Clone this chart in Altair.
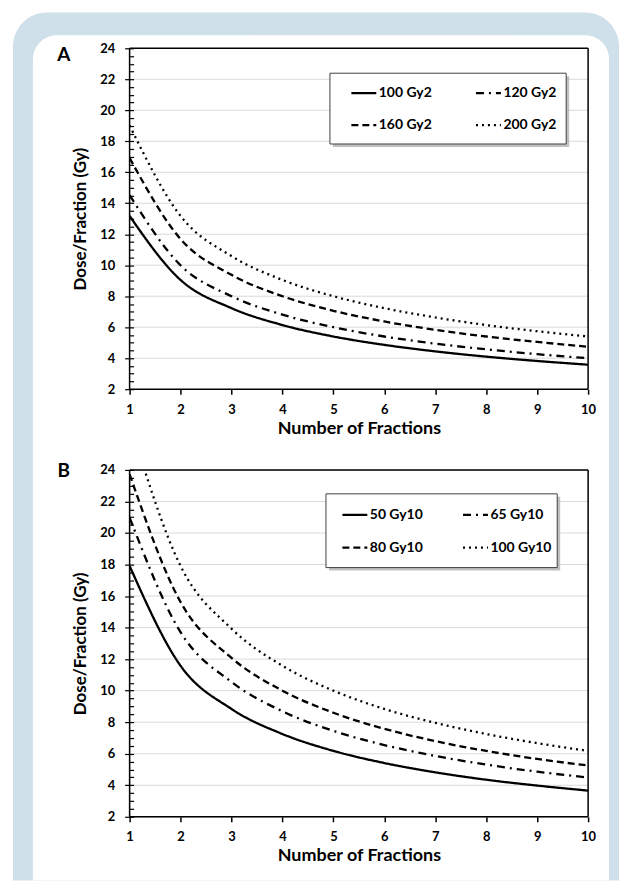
import altair as alt
import pandas as pd

FONT = "Lato"

# ---------------- data ----------------
fractions = [1, 2, 3, 4, 5, 6, 7, 8, 9, 10]

a_labels = ["100 Gy2", "120 Gy2", "160 Gy2", "200 Gy2"]
a_100 = [13.18, 9.05, 7.23, 6.14, 5.40, 4.86, 4.44, 4.10, 3.82, 3.58]
a_120 = [14.52, 10.00, 8.00, 6.81, 6.00, 5.40, 4.94, 4.57, 4.26, 4.00]
a_160 = [16.92, 11.69, 9.38, 8.00, 7.06, 6.37, 5.83, 5.40, 5.05, 4.74]
a_200 = [19.02, 13.18, 10.59, 9.05, 8.00, 7.23, 6.63, 6.14, 5.74, 5.40]

b_labels = ["50 Gy10", "65 Gy10", "80 Gy10", "100 Gy10"]
b_50 = [17.91, 11.58, 8.84, 7.25, 6.18, 5.41, 4.82, 4.35, 3.98, 3.66]
b_65 = [20.98, 13.71, 10.55, 8.69, 7.45, 6.55, 5.86, 5.31, 4.86, 4.49]
b_80 = [23.72, 15.62, 12.08, 10.00, 8.60, 7.58, 6.80, 6.18, 5.67, 5.25]
b_100 = [27.02, 17.91, 13.93, 11.58, 10.00, 8.84, 7.96, 7.25, 6.67, 6.18]

y_tick_values = [v / 2 for v in range(4, 49)]  # 2, 2.5, ... 24 (major every 2)
x_tick_values = fractions
grid_values = [4, 6, 8, 10, 12, 14, 16, 18, 20, 22]
y_domain = [2, 24]
x_domain = [1, 10]

# solid, dash-dot, dash, dot
dash_styles = [[1, 0], [8, 5, 2, 5], [7, 4], [2, 4]]

BLUE = "#cfe0ea"
OX = 129  # page x of plot origin (both panels)
FRAME_BOTTOM = 881

one = pd.DataFrame({"k": [0]})


def long_table(labels, series):
    rows = []
    for lab, vals in zip(labels, series):
        for n, v in zip(fractions, vals):
            rows.append({"n": n, "dose": v, "series": lab})
    return pd.DataFrame(rows)


def make_axes():
    xaxis = alt.Axis(
        values=x_tick_values, domain=False, grid=False, tickSize=5,
        tickColor="black", tickWidth=1.5, labelFont=FONT, labelFontSize=13,
        labelFontWeight="bold", labelColor="black", labelPadding=9,
        labelFlush=False, title="Number of Fractions", titleFont=FONT,
        titleFontSize=18, titleFontWeight="bold", titleColor="black",
        titlePadding=3, zindex=1)
    yaxis = alt.Axis(
        values=y_tick_values, domain=False, grid=False, offset=-4,
        tickSize={"condition": {"test": "datum.value % 2 === 0", "value": 9}, "value": 4},
        tickColor="black", tickWidth=1.2,
        labelExpr="datum.value % 2 === 0 ? format(datum.value, 'd') : ''",
        labelOverlap=False, labelFont=FONT, labelFontSize=13,
        labelFontWeight="bold", labelColor="black", labelPadding=10,
        labelFlush=False, title="Dose/Fraction (Gy)", titleFont=FONT,
        titleFontSize=17, titleFontWeight="bold", titleColor="black",
        titlePadding=10, zindex=1)
    return xaxis, yaxis


def panel(labels, series, letter, oy, h, box, lx, ly, rowpad, colpad, frame):
    xs = alt.Scale(domain=x_domain, nice=False, zero=False)
    ys = alt.Scale(domain=y_domain, nice=False, zero=False)
    xaxis, yaxis = make_axes()

    layers = []
    if frame:
        layers.append(alt.Chart(one).mark_rect(
            color=BLUE, strokeWidth=0, cornerRadiusTopLeft=34,
            cornerRadiusTopRight=34).encode(
            x=alt.value(12 - OX), x2=alt.value(620 - OX),
            y=alt.value(10 - oy), y2=alt.value(FRAME_BOTTOM - oy)))
        layers.append(alt.Chart(one).mark_rect(
            color="white", strokeWidth=0, cornerRadiusTopLeft=24,
            cornerRadiusTopRight=24).encode(
            x=alt.value(32 - OX), x2=alt.value(610 - OX),
            y=alt.value(33 - oy), y2=alt.value(FRAME_BOTTOM - oy)))

    layers.append(alt.Chart(pd.DataFrame({"dose": grid_values})).mark_rule(
        color="#d9d9d9", strokeWidth=1).encode(
        y=alt.Y("dose:Q", scale=ys, axis=yaxis)))

    # legend box with drop shadow (decoration)
    bx1, by1, bx2, by2 = box
    layers.append(alt.Chart(one).mark_rect(color="#b0b0b0", opacity=0.8).encode(
        x=alt.value(bx1 - OX + 3), x2=alt.value(bx2 - OX + 3),
        y=alt.value(by1 - oy + 3), y2=alt.value(by2 - oy + 3)))
    layers.append(alt.Chart(one).mark_rect(
        fill="white", stroke="#404040", strokeWidth=1).encode(
        x=alt.value(bx1 - OX), x2=alt.value(bx2 - OX),
        y=alt.value(by1 - oy), y2=alt.value(by2 - oy)))

    # legend order so that the 2-column grid reads row by row
    leg_order = [labels[0], labels[2], labels[1], labels[3]]
    leg_dash = [dash_styles[0], dash_styles[2], dash_styles[1], dash_styles[3]]

    df = long_table(labels, series)
    layers.append(alt.Chart(df).mark_line(
        clip=True, color="black", strokeWidth=2.3, interpolate="monotone"
    ).encode(
        x=alt.X("n:Q", scale=xs, axis=xaxis),
        y=alt.Y("dose:Q", scale=ys, axis=yaxis),
        strokeDash=alt.StrokeDash("series:N", scale=alt.Scale(
            domain=leg_order, range=leg_dash), legend=alt.Legend(
            orient="none", legendX=lx - OX, legendY=ly - oy, columns=2,
            title=None, padding=0, rowPadding=rowpad, columnPadding=colpad,
            symbolType="stroke", symbolStrokeWidth=2.3, symbolSize=625,
            symbolStrokeColor="black", labelFont=FONT, labelFontSize=14,
            labelFontWeight="bold", labelColor="black", labelOffset=1)),
    ))

    layers.append(alt.Chart(pd.DataFrame({"dose": y_domain})).mark_rule(
        color="black", strokeWidth=1.5).encode(
        y=alt.Y("dose:Q", scale=ys, axis=yaxis)))
    layers.append(alt.Chart(pd.DataFrame({"n": x_domain})).mark_rule(
        color="black", strokeWidth=1.5).encode(
        x=alt.X("n:Q", scale=xs, axis=xaxis)))

    ly_letter = 53 if frame else 470
    layers.append(alt.Chart(one).mark_text(
        text=letter, font=FONT, fontSize=19, fontWeight="bold", color="black",
        align="center", baseline="middle").encode(
        x=alt.value(63 - OX), y=alt.value(ly_letter - oy)))

    return alt.layer(*layers).properties(width=460, height=h)


panel_a = panel(a_labels, [a_100, a_120, a_160, a_200], "A", 46, 342,
                (330, 71, 567, 142), 350, 77, 11, 38, True)
panel_b = panel(b_labels, [b_50, b_65, b_80, b_100], "B", 469, 348,
                (326, 493, 558, 567), 341, 500, 12, 34, False)

chart = alt.vconcat(panel_a, panel_b, spacing=81, bounds="flush").resolve_scale(
    strokeDash="independent").properties(
    padding={"left": 4, "top": 2, "right": 0, "bottom": 0}
).configure_view(stroke=None).configure(background="white")

chart.save("out.html", embed_options={"renderer": "svg", "actions": False})
